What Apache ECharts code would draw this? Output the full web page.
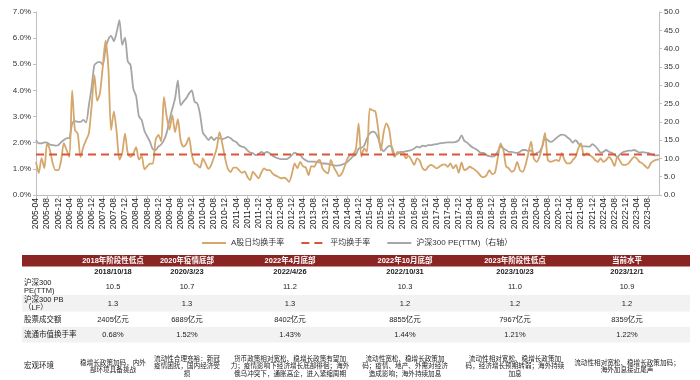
<!DOCTYPE html>
<html>
<head>
<meta charset="utf-8">
<script src="https://cdn.jsdelivr.net/npm/echarts@6/dist/echarts.min.js"></script>
<style>
html,body{margin:0;padding:0;background:#fff;}
#chart{width:700px;height:380px;}
</style>
</head>
<body>
<div id="chart"></div>
<script>
// ---------- DATA ----------
const startYear = 2005, startMonth = 4;
// A股日均换手率 (%), monthly 2005-04 .. 2023-12
const turnover = [
1.27,0.84,1.41,1.03,1.98,1.72,1.22,0.95,0.95,1.30,
1.98,1.72,1.45,4.00,2.48,2.35,1.45,1.83,2.10,2.35,
3.40,4.58,3.60,3.90,4.90,5.90,4.90,2.48,3.20,2.40,
1.35,1.60,2.35,1.60,1.46,1.58,1.83,1.35,1.50,0.98,
1.10,1.20,1.20,2.10,2.30,2.05,3.75,3.00,2.50,3.05,
2.40,2.90,2.10,1.85,1.95,2.20,1.55,1.20,1.15,1.05,
1.40,1.20,1.00,1.15,1.45,1.80,2.40,1.95,1.40,1.00,
0.88,1.05,1.05,0.95,0.85,0.90,0.70,0.57,0.89,0.76,
0.64,0.85,1.02,0.95,0.95,0.83,0.75,0.70,0.64,0.66,
0.62,0.50,0.80,1.21,1.02,1.27,1.10,1.05,0.76,1.10,
1.08,1.27,1.34,1.02,0.89,0.83,1.34,1.08,0.89,0.72,
0.83,1.10,1.40,1.53,1.55,1.75,2.74,1.46,1.78,1.65,
3.30,3.24,3.20,2.54,1.70,2.40,2.74,2.50,1.75,1.46,
1.65,1.60,1.65,1.40,1.50,1.34,1.15,1.40,1.30,1.02,
0.95,1.08,1.15,1.10,1.02,1.08,1.15,1.17,1.08,1.21,
1.02,1.15,0.85,1.25,0.95,1.00,1.08,1.02,0.95,0.85,
0.72,0.68,0.76,0.95,0.80,0.85,1.40,1.97,1.75,1.10,
1.02,0.89,0.95,1.27,0.95,0.89,1.15,1.59,2.04,1.40,
1.27,1.46,1.84,2.38,1.35,1.27,1.30,1.34,1.30,1.60,
1.35,1.21,1.21,1.34,1.46,1.78,1.97,1.50,1.59,1.53,
1.46,1.34,1.27,1.40,1.27,1.34,1.46,1.34,1.11,1.46,
1.30,1.15,1.15,1.21,1.34,1.46,1.40,1.27,1.21,1.11,
1.02,1.21,1.30,1.34,1.36
];
// 沪深300 PE(TTM) (right axis)
const pe300 = [
15.0,14.1,14.1,14.4,14.3,13.8,13.6,13.5,13.6,14.4,
15.0,15.5,15.6,19.5,20.2,20.0,20.0,20.5,19.8,24.5,
29.5,35.5,36.2,36.4,35.5,40.0,42.5,43.5,42.0,44.5,
47.8,41.0,43.0,36.5,35.5,29.0,27.0,21.5,20.5,17.5,
16.0,14.5,12.5,12.3,13.2,13.8,15.0,17.0,20.5,23.5,
26.4,31.3,24.5,25.5,26.4,27.7,28.6,25.5,25.0,22.0,
17.0,16.0,15.0,15.9,15.0,15.7,15.5,15.3,15.5,15.9,
15.5,14.8,14.5,13.6,13.2,13.0,12.2,11.6,11.4,10.9,
11.2,11.8,11.4,11.8,11.4,10.8,10.3,10.0,9.8,9.8,
9.8,10.2,10.9,11.6,11.2,10.9,10.0,9.5,9.1,9.1,
9.1,9.0,8.9,8.6,8.6,8.5,8.3,8.1,8.0,8.1,
8.3,8.6,9.1,9.8,10.6,11.0,12.7,12.9,13.5,15.5,
16.8,17.3,17.0,15.5,13.0,12.0,12.8,13.4,13.0,11.0,
11.2,11.8,11.8,11.9,12.1,12.3,12.7,13.2,13.0,13.5,
13.3,13.6,13.6,13.8,13.9,14.1,14.2,14.3,14.4,14.4,
14.4,14.5,15.0,16.3,14.8,14.3,13.6,13.0,12.6,12.1,
11.5,11.5,10.9,10.6,10.5,10.7,11.8,13.2,12.7,12.3,
11.8,11.8,11.6,11.5,11.8,12.3,12.3,12.0,12.2,10.9,
11.5,11.8,13.2,15.5,15.0,14.5,14.8,15.5,16.1,16.5,
16.4,15.8,15.2,14.3,15.0,14.1,13.4,13.3,13.3,13.2,
13.9,13.4,12.5,11.6,11.8,12.3,11.8,11.5,11.0,10.4,
11.1,11.7,11.9,12.1,12.1,12.3,12.0,11.6,11.7,11.6,
11.5,11.2,10.9,10.8,10.9
];
const avgTurnover = 1.55;

const leftTicks = { min: 0, max: 7, interval: 1 };
const rightTicks = { min: 0, max: 50, interval: 5 };

const seriesNames = ['A股日均换手率', '平均换手率', '沪深300 PE(TTM)（右轴）'];

// table
const tableHeaders = ['2018年阶段性低点','2020年疫情底部','2022年4月底部','2022年10月底部','2023年阶段性低点','当前水平'];
const tableDates = ['2018/10/18','2020/3/23','2022/4/26','2022/10/31','2023/10/23','2023/12/1'];
const rowPE = ['10.5','10.7','11.2','10.3','11.0','10.9'];
const rowPB = ['1.3','1.3','1.3','1.2','1.2','1.2'];
const rowAmount = ['2405亿元','6889亿元','8402亿元','8855亿元','7967亿元','8359亿元'];
const rowTurnover = ['0.68%','1.52%','1.43%','1.44%','1.21%','1.22%'];
const rowMacro = [
  '稳增长政策加码，内外\n部环境具备挑战',
  '流动性合理充裕：新冠\n疫情困扰，国内经济受\n损',
  '货币政策相对宽松、稳增长政策有望加\n力；疫情影响下经济增长底部徘徊；海外\n俄乌冲突下，通胀高企，进入紧缩周期',
  '流动性宽松、稳增长政策加\n码；疫情、地产、外需对经济\n造成影响；海外持续加息',
  '流动性相对宽松、稳增长政策加\n码，经济增长预期转弱；海外持续\n加息',
  '流动性相对宽松、稳增长政策加码；\n海外加息接近尾声'
];
const rowLabels = ['沪深300\nPE(TTM)', '沪深300 PB\n（LF）', '股票成交额', '流通市值换手率', '宏观环境'];

// ---------- BUILD ----------
const categories = [];
for (let i = 0; i < turnover.length; i++) {
  const m = startMonth - 1 + i;
  const y = startYear + Math.floor(m / 12);
  const mm = (m % 12) + 1;
  categories.push(y + '-' + (mm < 10 ? '0' + mm : '' + mm));
}
const avgLine = categories.map(() => avgTurnover);

const FONT = "'Liberation Sans', Arial, 'Noto Sans CJK SC', sans-serif";
const TXT = '#333333';
const AXIS = '#BFBFBF';

// table geometry
const tL = 22, tR = 690;
const colX = [113, 187, 290, 405, 515, 627];
const labelX = 24;
const g = [];
function txt(x, y, text, opt) {
  opt = opt || {};
  g.push({
    type: 'text', x: x, y: y, silent: true,
    style: {
      text: text,
      fill: opt.fill || '#222',
      fontSize: opt.size || 7.5,
      fontWeight: opt.bold ? 'bold' : 'normal',
      fontFamily: FONT,
      align: opt.align || 'center',
      textAlign: opt.align || 'center',
      verticalAlign: 'middle',
      textVerticalAlign: 'middle',
      lineHeight: opt.lh || 8
    }
  });
}
function rect(x, y, w, h, fill) {
  g.push({ type: 'rect', silent: true, shape: { x: x, y: y, width: w, height: h }, style: { fill: fill } });
}
rect(tL, 255, tR - tL, 11.5, '#8B2524');
rect(tL, 295, tR - tL, 16.5, '#F2F2F2');
rect(tL, 327, tR - tL, 15.5, '#F2F2F2');
const rowsY = { head: 260.8, date: 272, pe: 287, pb: 303.5, amt: 319.5, turn: 335, macro: 366.5 };
tableHeaders.forEach((t, i) => txt(colX[i], rowsY.head, t, { fill: '#fff', bold: true, size: 7.5 }));
tableDates.forEach((t, i) => txt(colX[i], rowsY.date, t, { bold: true, size: 7.5 }));
rowPE.forEach((t, i) => txt(colX[i], rowsY.pe, t));
rowPB.forEach((t, i) => txt(colX[i], rowsY.pb, t));
rowAmount.forEach((t, i) => txt(colX[i], rowsY.amt, t));
rowTurnover.forEach((t, i) => txt(colX[i], rowsY.turn, t));
rowMacro.forEach((t, i) => txt(colX[i], rowsY.macro, t, { size: 6.6, lh: 7.4 }));
txt(labelX, rowsY.pe - 0.5, rowLabels[0], { align: 'left', lh: 8 });
txt(labelX, rowsY.pb, rowLabels[1], { align: 'left', lh: 8 });
txt(labelX, rowsY.amt, rowLabels[2], { align: 'left' });
txt(labelX, rowsY.turn, rowLabels[3], { align: 'left' });
txt(labelX, rowsY.macro - 1, rowLabels[4], { align: 'left' });

const chart = echarts.init(document.getElementById('chart'), null, { renderer: 'canvas' });
chart.setOption({
  animation: false,
  backgroundColor: '#fff',
  textStyle: { fontFamily: FONT },
  grid: { left: 36, right: 41, top: 12, bottom: 185, containLabel: false },
  legend: {
    data: seriesNames,
    left: 196, top: 234,
    itemWidth: 24, itemHeight: 10, itemGap: 16,
    itemStyle: { opacity: 0 },
    textStyle: { fontSize: 8, color: TXT, fontFamily: FONT }
  },
  xAxis: {
    type: 'category', data: categories, boundaryGap: false,
    axisLine: { lineStyle: { color: AXIS } },
    axisTick: { interval: 3, length: 3, lineStyle: { color: AXIS } },
    axisLabel: { interval: 3, rotate: 90, fontSize: 8.5, color: '#222', margin: 3, fontFamily: FONT, showMaxLabel: false },
    splitLine: { show: false }
  },
  yAxis: [
    {
      type: 'value', min: leftTicks.min, max: leftTicks.max, interval: leftTicks.interval,
      axisLine: { show: true, lineStyle: { color: AXIS } },
      axisTick: { show: true, length: 3, lineStyle: { color: AXIS } },
      axisLabel: { fontSize: 8, color: TXT, margin: 5, formatter: v => v.toFixed(1) + '%' },
      splitLine: { show: false }
    },
    {
      type: 'value', min: rightTicks.min, max: rightTicks.max, interval: rightTicks.interval,
      axisLine: { show: true, lineStyle: { color: AXIS } },
      axisTick: { show: true, length: 3, lineStyle: { color: AXIS } },
      axisLabel: { fontSize: 8, color: TXT, margin: 5, formatter: v => v.toFixed(1) },
      splitLine: { show: false }
    }
  ],
  series: [
    {
      name: seriesNames[0], type: 'line', data: turnover, yAxisIndex: 0,
      symbol: 'none', smooth: 0.25,
      lineStyle: { color: '#D5A76C', width: 1.8 }, itemStyle: { color: '#D5A76C' }, z: 3
    },
    {
      name: seriesNames[1], type: 'line', data: avgLine, yAxisIndex: 0,
      symbol: 'none',
      lineStyle: { color: '#D9553A', width: 2, type: [8, 5] }, itemStyle: { color: '#D9553A' }, z: 4
    },
    {
      name: seriesNames[2], type: 'line', data: pe300, yAxisIndex: 1,
      symbol: 'none', smooth: 0.25,
      lineStyle: { color: '#A6A6A6', width: 1.8 }, itemStyle: { color: '#A6A6A6' }, z: 2
    }
  ],
  graphic: { elements: g }
});
</script>
</body>
</html>
